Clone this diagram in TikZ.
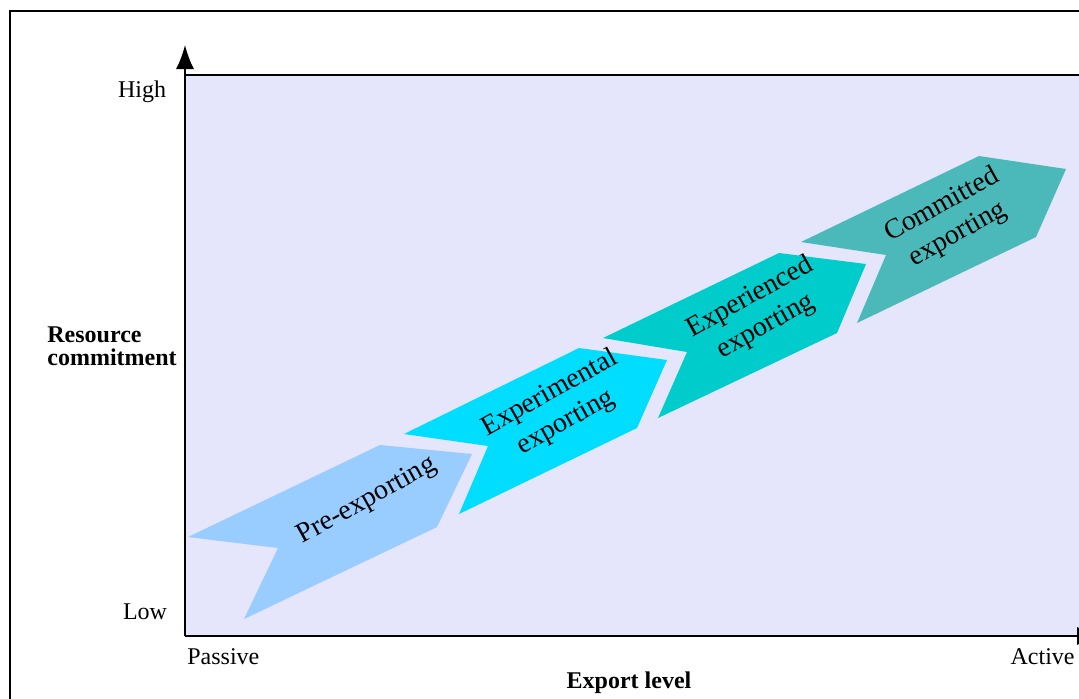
\documentclass[tikz,border=0pt]{standalone}
\usepackage{fontspec}
\setmainfont{Liberation Serif}
\usetikzlibrary{arrows.meta}

\definecolor{plotbg}{HTML}{E5E5FB}
\definecolor{preexp}{HTML}{99CCFF}
\definecolor{experim}{HTML}{00DDFF}
\definecolor{experien}{HTML}{00CCCC}
\definecolor{commit}{HTML}{4BB9B9}

\begin{document}
\begin{tikzpicture}[x=0.5pt,y=-0.5pt,
  axis/.style={line width=0.8pt, -{Latex[length=12pt,width=9pt]}},
  stage/.style={rotate=29, align=center, inner sep=0pt, font=\fontsize{14}{16.5}\selectfont},
  tick/.style={inner sep=0pt, font=\fontsize{12}{14}\selectfont},
  title/.style={inner sep=0pt, align=left, font=\fontsize{12}{11.5}\selectfont\bfseries}]
  \useasboundingbox (0,0) rectangle (1079,698);
  \clip (0,0) rectangle (1079,698);

  % frame round the figure
  \draw[line width=1pt] (10,720) -- (10,11) -- (1100,11);

  % plot area
  \fill[plotbg] (185,75) rectangle (1120,636);
  \draw[line width=0.8pt] (185,636) -- (185,75) -- (1120,75);

  % the four stages
  \fill[preexp] (188,537) -- (380,445) -- (472,454) -- (437,527) -- (244,619) -- (278,548) -- cycle;
  \fill[experim] (404,434) -- (579,348) -- (667,360) -- (637,428) -- (459,514) -- (488,446) -- cycle;
  \fill[experien] (603,338) -- (779,253) -- (866,264) -- (837,333) -- (658,418) -- (687,352) -- cycle;
  \fill[commit] (801,242) -- (979,156) -- (1066,169) -- (1036,237) -- (857,323) -- (886,255) -- cycle;

  \node[stage] (preexporting) at (367,501) {Pre-exporting};
  \node[stage] (experimental) at (558,408) {Experimental\\exporting};
  \node[stage] (experienced) at (758,312) {Experienced\\exporting};
  \node[stage] (committed) at (950,220) {Committed\\exporting};

  % axes
  \coordinate (origin) at (185,636);
  \coordinate (ytop) at (185,45);
  \coordinate (xend) at (1101,636);
  \draw[axis] (origin) -- (ytop);
  \draw[axis] (origin) -- (xend);

  \node[tick] (high) at (142,92) {High};
  \node[tick] (low) at (145,612) {Low};
  \node[tick, anchor=west] (passive) at (187,657) {Passive};
  \node[tick, anchor=east] (active) at (1075,657) {Active};

  \node[title] (xlabel) at (629,683) {Export level};
  \node[title, anchor=west] (ylabel) at (47,346) {Resource\\commitment};
\end{tikzpicture}
\end{document}
